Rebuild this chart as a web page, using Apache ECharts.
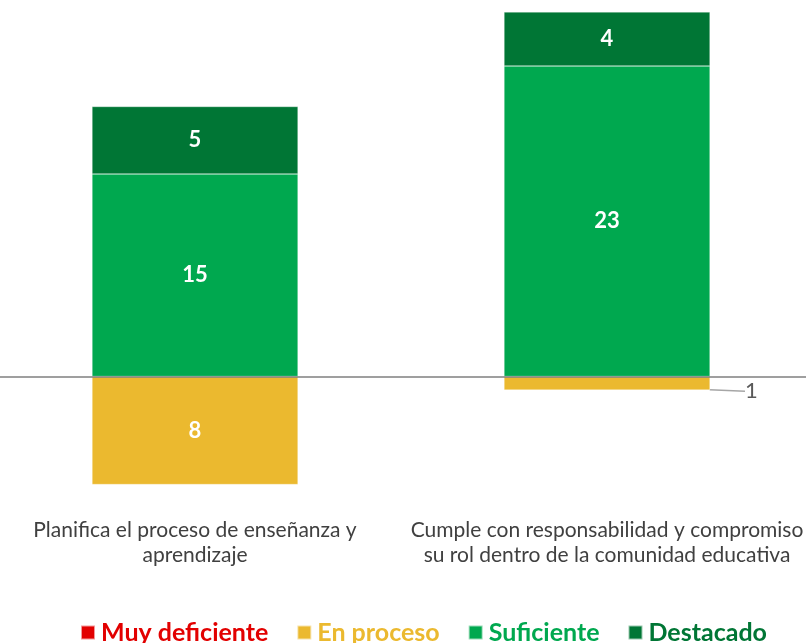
<!DOCTYPE html>
<html>
<head>
<meta charset="utf-8">
<script src="https://cdn.jsdelivr.net/npm/echarts@6/dist/echarts.min.js"></script>
<style>
html, body { margin: 0; padding: 0; background: #fff; overflow: hidden; }
#box { width: 824px; height: 643px; margin-left: -11px; }
</style>
</head>
<body>
<div id="box"></div>
<script>
const categories = ['Planifica el proceso de enseñanza y\naprendizaje', 'Cumple con responsabilidad y compromiso\nsu rol dentro de la comunidad educativa']
const seriesNames = ['Muy deficiente', 'En proceso', 'Suficiente', 'Destacado']
const muyDeficiente = [0, 0]
const enProceso = [-8, -1]
const suficiente = [15, 23]
const destacado = [5, 4]
const colors = ['#e20000', '#ebb92f', '#00a84f', '#007635']

const font = 'Lato, "Open Sans", sans-serif'

function barLabel(params) {
  const v = Math.abs(params.value)
  return v === 0 ? '' : String(v)
}

function makeSeries(name, data, color) {
  return {
    name: name,
    type: 'bar',
    stack: 'total',
    barWidth: '50%',
    data: data.map(v => ({ value: v })),
    itemStyle: { color: color, borderColor: 'rgba(255,255,255,0.6)', borderWidth: 0.5 },
    label: {
      show: true,
      position: 'inside',
      formatter: barLabel,
      color: '#fff',
      fontFamily: font,
      fontWeight: 'bold',
      fontSize: 22
    }
  }
}

const series = [
  makeSeries(seriesNames[0], muyDeficiente, colors[0]),
  makeSeries(seriesNames[1], enProceso, colors[1]),
  makeSeries(seriesNames[2], suficiente, colors[2]),
  makeSeries(seriesNames[3], destacado, colors[3])
]

// small value shown outside with a leader line
series[1].data[1].label = {
  position: 'right',
  color: '#595959',
  fontWeight: 'normal',
  fontSize: 22
}
series[1].labelLine = { show: true, lineStyle: { color: '#a6a6a6', width: 1.5 } }
series[1].labelLayout = function (params) {
  if (params.dataIndex === 1) {
    return { dx: 30, dy: 8 }
  }
  return {}
}
// zero line
series[2].markLine = {
  silent: true,
  symbol: 'none',
  label: { show: false },
  lineStyle: { color: '#7f7f7f', width: 1.5, type: 'solid' },
  data: [{ yAxis: 0 }]
}

var myChart = echarts.init(document.getElementById('box'))
myChart.setOption({
  animation: false,
  color: colors,
  grid: { left: 0, right: 0, top: 12, bottom: 131.5, containLabel: false },
  legend: {
    data: seriesNames.map((n, i) => ({ name: n, textStyle: { color: colors[i] } })),
    top: 615,
    left: 86,
    itemWidth: 14,
    itemHeight: 14,
    itemGap: 28,
    icon: 'rect',
    textStyle: {
      fontFamily: font,
      fontWeight: 'bold',
      fontSize: 25,
      padding: [0, 0, 0, 1]
    }
  },
  xAxis: {
    type: 'category',
    data: categories,
    position: 'bottom',
    axisLine: { show: false, onZero: false },
    axisTick: { show: false },
    axisLabel: {
      color: '#404040',
      fontFamily: font,
      fontSize: 21,
      lineHeight: 25,
      margin: 6,
      interval: 0
    }
  },
  yAxis: {
    type: 'value',
    min: -10,
    max: 27,
    show: false,
    splitLine: { show: false }
  },
  series: series
})
</script>
</body>
</html>
